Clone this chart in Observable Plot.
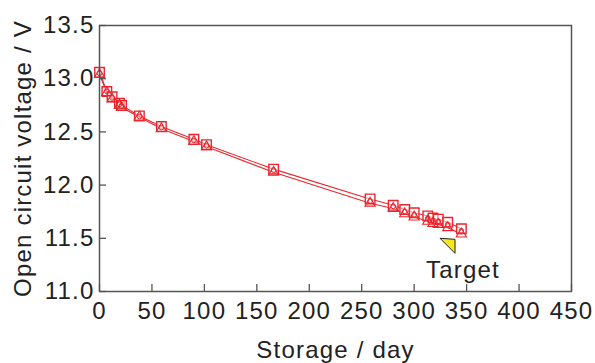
<!DOCTYPE html>
<html>
<head>
<meta charset="utf-8">
<script src="https://cdn.jsdelivr.net/npm/d3@7"></script>
<script src="https://cdn.jsdelivr.net/npm/@observablehq/plot@0.6"></script>
<style>
  html, body { margin: 0; padding: 0; background: #fff; }
  #chart svg { display: block; }
  #chart svg text { letter-spacing: 1.2px; }
</style>
</head>
<body>
<div id="chart"></div>
<script>
// Storage time (days)
const days = [0, 7, 12, 19, 21, 38, 59, 90, 102, 166, 258, 280, 291, 300, 313, 318, 323, 332, 345];
// Open circuit voltage, series A (squares)
const voltsA = [13.06, 12.88, 12.83, 12.77, 12.75, 12.65, 12.55, 12.43, 12.38, 12.15, 11.87, 11.81, 11.77, 11.74, 11.71, 11.69, 11.68, 11.65, 11.59];
// series B (circles)
const voltsB = [13.05, 12.88, 12.82, 12.76, 12.74, 12.645, 12.54, 12.42, 12.37, 12.14, 11.85, 11.80, 11.75, 11.72, 11.69, 11.67, 11.66, 11.63, 11.57];
// series C (triangles)
const voltsC = [13.04, 12.87, 12.81, 12.75, 12.73, 12.64, 12.53, 12.41, 12.36, 12.12, 11.83, 11.78, 11.73, 11.70, 11.66, 11.64, 11.63, 11.60, 11.54];
// Target annotation
const targetDay = [338];
const targetVolt = [11.5];
const targetLabel = ["Target"];
// Axis ticks and labels
const xTicks = [0, 50, 100, 150, 200, 250, 300, 350, 400, 450];
const yTicks = [11.0, 11.5, 12.0, 12.5, 13.0, 13.5];
const xLabel = "Storage / day";
const yLabel = "Open circuit voltage / V";

const red = "#e8262d";
const axisCol = "#555";
const textCol = "#222";
const W = 595, H = 363;
const mL = 99, mR = 24, mT = 25, mB = 72;
const plotW = W - mL - mR, plotH = H - mT - mB;

const mk = (vals) => days.map((d, i) => ({day: d, v: vals[i]}));
const A = mk(voltsA), B = mk(voltsB), C = mk(voltsC);
const target = targetDay.map((d, i) => ({day: d, v: targetVolt[i], label: targetLabel[i]}));

// right-triangle marker, anchored at its top-right corner
const flag = {
  draw(ctx, size) {
    const r = Math.sqrt(size / Math.PI);
    ctx.moveTo(-r, 0);
    ctx.lineTo(1, 1);
    ctx.lineTo(1, r + 1);
    ctx.closePath();
  }
};

const chart = Plot.plot({
  width: W,
  height: H,
  marginLeft: mL,
  marginRight: mR,
  marginTop: mT,
  marginBottom: mB,
  style: {fontFamily: "'Liberation Sans', Arial, sans-serif", fontSize: "24px", color: textCol, background: "#fff"},
  x: {domain: [0, 450], ticks: xTicks},
  y: {domain: [11.0, 13.5], ticks: yTicks},
  marks: [
    Plot.line(A, {x: "day", y: "v", stroke: red, strokeWidth: 1.1}),
    Plot.line(C, {x: "day", y: "v", stroke: red, strokeWidth: 1.1}),
    Plot.dot(A, {x: "day", y: "v", symbol: "square", r: 5.4, stroke: red, strokeWidth: 1.4, fill: "white", fillOpacity: 0.5}),
    Plot.dot(C, {x: "day", y: "v", symbol: "triangle", r: 3.8, stroke: red, strokeWidth: 1.1, fill: "none"}),
    Plot.dot(B, {x: "day", y: "v", symbol: "circle", r: 2.3, stroke: red, strokeWidth: 1, fill: "none"}),
    Plot.dot(target, {x: "day", y: "v", symbol: flag, r: 14, fill: "#f7e81e", stroke: "#222", strokeWidth: 1}),
    Plot.text(target, {x: "day", y: "v", text: "label", dx: 9, dy: 32, fontSize: 24, fill: textCol}),
    Plot.frame({stroke: axisCol, strokeWidth: 1.5}),
    Plot.tickX(xTicks, {x: d => d, insetTop: plotH - 7, stroke: axisCol, strokeWidth: 1.3}),
    Plot.tickY(yTicks, {y: d => d, insetRight: plotW - 7, stroke: axisCol, strokeWidth: 1.3}),
    Plot.axisX({ticks: xTicks, tickSize: 0, tickPadding: 10, tickFormat: d3.format("d"), label: null, fontSize: 24, fill: textCol}),
    Plot.axisY({ticks: yTicks, tickSize: 0, tickPadding: 5, tickFormat: d3.format(".1f"), label: null, fontSize: 24, fill: textCol}),
    Plot.text([xLabel], {text: d => d, frameAnchor: "bottom", textAnchor: "middle", dy: 66, fontSize: 24, fill: textCol}),
    Plot.text([yLabel], {text: d => d, frameAnchor: "left", textAnchor: "middle", rotate: -90, dx: -76, fontSize: 24, fill: textCol})
  ]
});
document.getElementById("chart").appendChild(chart);
</script>
</body>
</html>
